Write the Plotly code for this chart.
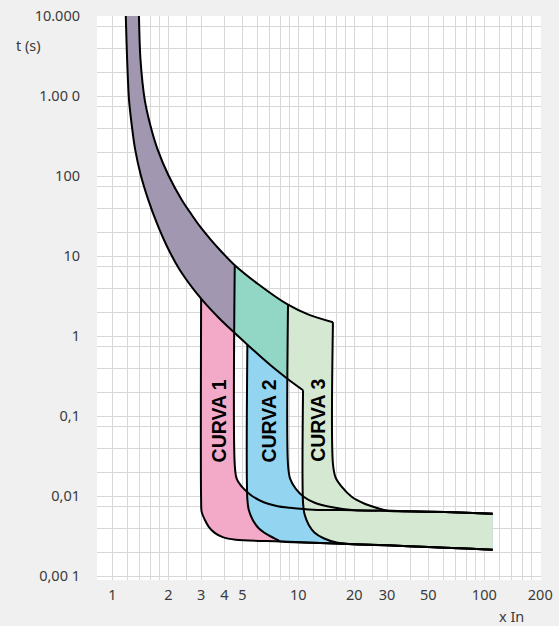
import plotly.graph_objects as go

# ---------------- data ----------------
# thermal band: lower (L) and upper (U) boundary curves  (x In, t s)
L_x = [1.178, 1.181, 1.200, 1.228, 1.270, 1.326, 1.419, 1.558, 1.730, 1.959, 2.30, 3.0, 3.729, 4.55, 5.32, 6.195, 7.363, 8.8, 10.6]
L_t = [12000, 9640, 2900, 910, 443, 216, 105, 51.2, 26.4, 13.6, 6.82, 2.96, 1.71, 1.10, 0.788, 0.574, 0.406, 0.292, 0.2126]
U_x = [1.388, 1.390, 1.416, 1.492, 1.597, 1.752, 1.995, 2.358, 2.669, 2.965, 3.378, 3.776, 4.55, 6.04, 8.8, 11.36, 15.35]
U_t = [12000, 9640, 2877, 910, 443, 216, 105, 51.2, 33.2, 23.5, 16.2, 12.1, 7.76, 4.56, 2.49, 1.87, 1.50]

# instantaneous (magnetic) trip lines
LL_x = [4.6, 8, 12, 20, 30, 50, 80, 111]
LL_t = [0.00288, 0.00274, 0.00264, 0.00252, 0.00245, 0.00233, 0.00223, 0.00216]
UL_x = [9, 12, 20, 30, 50, 80, 111]
UL_t = [0.00722, 0.00682, 0.00672, 0.00663, 0.00644, 0.00626, 0.00608]

curve_names = ["CURVA 1", "CURVA 2", "CURVA 3"]
edge_left = [3.0, 5.32, 10.6]
edge_right = [4.55, 8.8, 15.35]

# rounded corners of each curve (left = lower limit, right = upper limit)
B_lo_x = [3.0, 3.02, 3.14, 3.29, 3.55, 3.92]
B_lo_t = [0.0091, 0.0064, 0.0051, 0.0042, 0.0035, 0.0031]
B_hi_x = [4.55, 4.66, 5.02, 5.61, 6.51, 7.74]
B_hi_t = [0.0249, 0.01665, 0.01284, 0.0102, 0.00846, 0.00754]
C_lo_x = [5.32, 5.41, 5.68, 6.12, 6.75, 7.74]
C_lo_t = [0.0091, 0.00682, 0.00512, 0.0040, 0.00337, 0.00285]
C_hi_x = [8.8, 9.03, 9.67, 10.68, 12.24, 14.73]
C_hi_t = [0.0249, 0.01665, 0.01248, 0.0099, 0.00834, 0.00743]
D_lo_x = [10.6, 10.81, 11.36, 12.24, 13.68, 16.07]
D_lo_t = [0.0083, 0.00592, 0.00443, 0.00352, 0.0030, 0.00265]
D_hi_x = [15.35, 15.87, 17.09, 19.35, 22.72, 28.05]
D_hi_t = [0.0254, 0.01714, 0.01322, 0.0099, 0.0081, 0.0069]

x_tick_vals = [1, 2, 3, 4, 5, 10, 20, 30, 50, 100, 200]
x_tick_text = ["1", "2", "3", "4", "5", "10", "20", "30", "50", "100", "200"]
y_tick_vals = [10000, 1000, 100, 10, 1, 0.1, 0.01, 0.001]
y_tick_text = ["10.000", "1.00 0", "100", "10", "1", "0,1", "0,01", "0,00 1"]

# ---------------- helpers ----------------
def pts(xs, ts):
    return list(zip(xs, ts))

def between(xs, ts, a, b):
    return [(x, t) for x, t in zip(xs, ts) if a <= x <= b]

def beyond(xs, ts, a):
    return [(x, t) for x, t in zip(xs, ts) if x > a]

lo_corners = [pts(B_lo_x, B_lo_t), pts(C_lo_x, C_lo_t), pts(D_lo_x, D_lo_t)]
hi_corners = [pts(B_hi_x, B_hi_t), pts(C_hi_x, C_hi_t), pts(D_hi_x, D_hi_t)]

def left_bound(k):
    c = lo_corners[k]
    return c + beyond(LL_x, LL_t, c[-1][0])

def right_bound(k):
    c = hi_corners[k]
    return c + beyond(UL_x, UL_t, c[-1][0])

PURPLE = "#a297b0"
PINK = "#f3a9c8"
TEAL = "#92d6c6"
BLUE = "#93d4f0"
GREEN = "#d5e9d2"

fig = go.Figure()

def add_poly(p, color):
    fig.add_trace(go.Scatter(x=[a for a, _ in p], y=[b for _, b in p], mode="lines",
                             fill="toself", fillcolor=color, line=dict(width=0),
                             hoverinfo="skip", showlegend=False))

def add_line(p):
    fig.add_trace(go.Scatter(x=[a for a, _ in p], y=[b for _, b in p], mode="lines",
                             line=dict(color="black", width=2, shape="spline", smoothing=0.9),
                             hoverinfo="skip", showlegend=False))

# thermal band part of curve 1 (purple)
add_poly(between(U_x, U_t, 0, edge_right[0]) + between(L_x, L_t, 0, edge_right[0])[::-1], PURPLE)
# curve 1 (pink)
add_poly(between(L_x, L_t, edge_left[0], edge_right[0]) + right_bound(0) + left_bound(0)[::-1], PINK)
# thermal band part of curve 2 (teal)
add_poly(between(U_x, U_t, edge_right[0], edge_right[1]) + between(L_x, L_t, edge_right[0], edge_right[1])[::-1], TEAL)
# curve 2 (blue)
add_poly(between(L_x, L_t, edge_left[1], edge_right[1]) + right_bound(1) + left_bound(1)[::-1], BLUE)
# curve 3 (light green)
add_poly(between(U_x, U_t, edge_right[1], edge_right[2]) + right_bound(2) + left_bound(2)[::-1]
         + between(L_x, L_t, edge_right[1], edge_left[2])[::-1], GREEN)

# outlines
add_line(pts(L_x, L_t))
add_line(pts(U_x, U_t))
for k in range(3):
    add_line(between(L_x, L_t, edge_left[k], edge_left[k]) + left_bound(k))
    add_line(between(U_x, U_t, edge_right[k], edge_right[k]) + right_bound(k))

# grid
x_minor = [m * d for d in (1, 10, 100) for m in (1, 1.2, 1.4, 1.6, 1.8, 2, 2.5, 3, 4, 5, 6, 7, 8, 9)]
y_minor = [m * 10 ** e for e in range(-3, 4) for m in (2, 4, 7.5)]

GRID = "#d7d7d7"
TICKFONT = dict(family="Noto Sans", size=14.5, color="#3a3a3a")

fig.update_layout(
    width=559, height=626,
    margin=dict(l=97, r=18, t=16, b=46, autoexpand=False),
    paper_bgcolor="#f0f0f0",
    plot_bgcolor="white",
    showlegend=False,
    xaxis=dict(type="log", range=[-0.0828, 2.305], tickvals=x_tick_vals, ticktext=x_tick_text,
               showgrid=True, gridcolor=GRID, gridwidth=1, zeroline=False, showline=False,
               ticks="", tickfont=TICKFONT, ticklabelstandoff=4,
               minor=dict(tickvals=x_minor, showgrid=True, gridcolor=GRID, gridwidth=1, ticks="")),
    yaxis=dict(type="log", range=[-3.045, 4.005], tickvals=y_tick_vals, ticktext=y_tick_text,
               showgrid=True, gridcolor=GRID, gridwidth=1, zeroline=False, showline=False,
               ticks="", tickfont=TICKFONT, ticklabelstandoff=16,
               minor=dict(tickvals=y_minor, showgrid=True, gridcolor=GRID, gridwidth=1, ticks="")),
)

# plot area: x 97.3..541.4 px, y 16.3..580.3 px
label_x = [0.274, 0.387, 0.498]
for name, xp in zip(curve_names, label_x):
    fig.add_annotation(text=name, x=xp, y=0.2824, xref="paper", yref="paper",
                       xanchor="center", yanchor="middle",
                       textangle=-90, showarrow=False,
                       font=dict(family="Liberation Sans", size=19.5, color="black", weight="bold"))

fig.add_annotation(text="t (s)", x=-0.154, y=0.949, xref="paper", yref="paper", showarrow=False,
                   xanchor="center", yanchor="middle",
                   font=dict(family="Noto Sans", size=14.5, color="#3a3a3a"))
fig.add_annotation(text="x In", x=0.933, y=-0.0645, xref="paper", yref="paper", showarrow=False,
                   xanchor="center", yanchor="middle",
                   font=dict(family="Noto Sans", size=14.5, color="#3a3a3a"))

fig.write_html("out.html", config={"displayModeBar": False},
               post_script="document.body.style.margin='0';document.body.style.padding='0';")
